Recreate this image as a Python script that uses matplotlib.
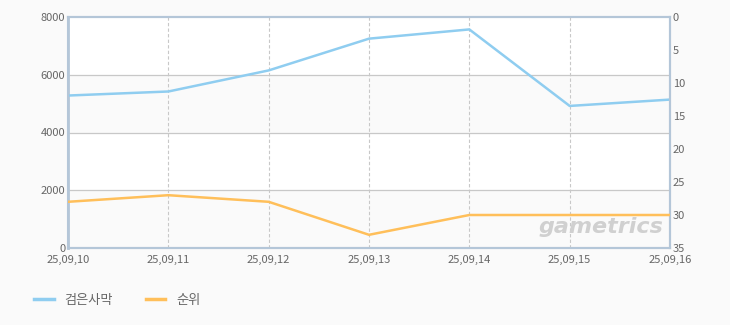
import matplotlib
matplotlib.use("Agg")
import matplotlib.pyplot as plt
from matplotlib.lines import Line2D

plt.rcParams['font.family'] = ['Noto Sans CJK KR', 'DejaVu Sans']

dates = ["25,09,10", "25,09,11", "25,09,12", "25,09,13", "25,09,14", "25,09,15", "25,09,16"]
players = [5280, 5420, 6150, 7250, 7570, 4920, 5140]
rank = [28, 27, 28, 33, 30, 30, 30]

blue = "#8fcdf0"
orange = "#ffbf5a"
spine_c = "#b4c6d8"
txt_c = "#666666"

fig = plt.figure(figsize=(7.3, 3.25), dpi=100, facecolor="#fafafa")
ax = fig.add_axes([68/730, 77/325, 602/730, 231/325])
ax.set_facecolor("white")
x = list(range(len(dates)))

# alternating bands
for lo in (0, 4000):
    ax.axhspan(lo, lo + 2000, color="#fafafa", zorder=0)
for yv in (2000, 4000, 6000):
    ax.axhline(yv, color="#c8c8c8", lw=0.9, zorder=1)
for xv in x[1:-1]:
    ax.axvline(xv, color="#c8c8c8", lw=0.8, ls=(0, (3, 2)), zorder=1)

ax.plot(x, players, color=blue, lw=1.8, zorder=3)
ax.set_xlim(0, len(dates) - 1)
ax.set_ylim(0, 8000)
ax.set_yticks([0, 2000, 4000, 6000, 8000])
ax.set_xticks(x)
ax.set_xticklabels(dates)

ax2 = ax.twinx()
ax2.plot(x, rank, color=orange, lw=1.8, zorder=3)
ax2.set_ylim(35, 0)
ax2.set_yticks([0, 5, 10, 15, 20, 25, 30, 35])

for a in (ax, ax2):
    for s in a.spines.values():
        s.set_color(spine_c)
        s.set_linewidth(1.5)
    a.tick_params(length=0, labelsize=8, colors=txt_c, pad=2)
ax.tick_params(axis="x", pad=5)
ax.spines["left"].set_linewidth(2)

ax.text(0.885, 0.09, "gametrics", transform=ax.transAxes, ha="center", va="center",
        fontsize=16, style="italic", fontweight="bold", color="#d0d0d0",
        family="DejaVu Sans", zorder=2)

handles = [Line2D([0], [0], color=blue, lw=2.5), Line2D([0], [0], color=orange, lw=2.5)]
fig.legend(handles, ["검은사막", "순위"], loc="lower left", bbox_to_anchor=(0.03, 0.02),
           ncol=2, frameon=False, fontsize=9.5, labelcolor=txt_c, handlelength=1.5,
           columnspacing=2.5)

fig.savefig("out.png", dpi=100, facecolor=fig.get_facecolor())
